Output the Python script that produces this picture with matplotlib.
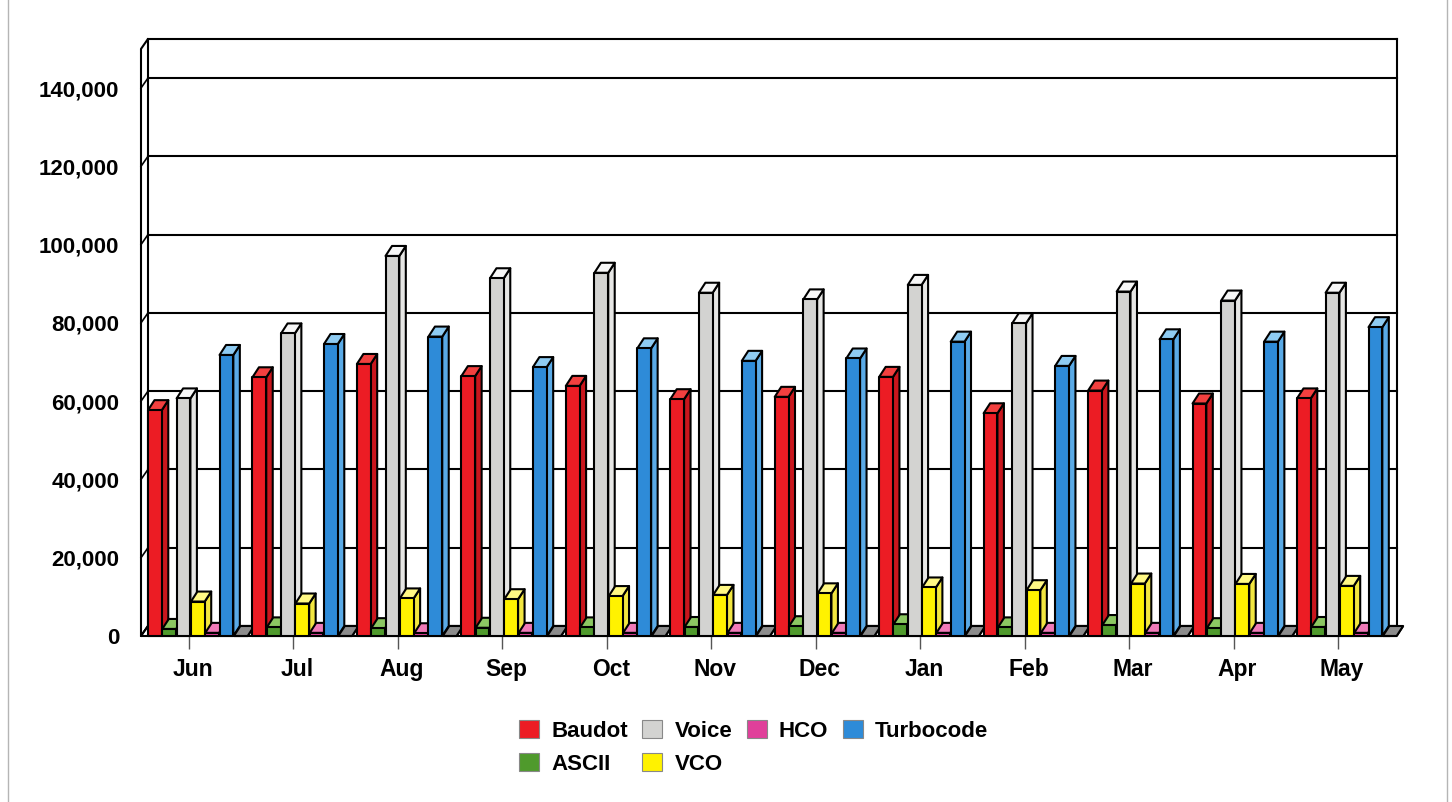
import matplotlib
matplotlib.use("Agg")
import matplotlib.pyplot as plt
import matplotlib.transforms as mtransforms
from matplotlib.patches import Polygon, Rectangle
from matplotlib.lines import Line2D

plt.rcParams['font.family'] = ['Liberation Sans', 'DejaVu Sans']
plt.rcParams['font.weight'] = 'bold'

# Monthly traffic counts
months = ["Jun", "Jul", "Aug", "Sep", "Oct", "Nov", "Dec", "Jan", "Feb", "Mar", "Apr", "May"]
baudot = [57700, 66100, 69500, 66400, 63900, 60500, 61100, 66200, 56900, 62700, 59400, 60700]
ascii_ = [1800, 2200, 2000, 2100, 2200, 2300, 2500, 3000, 2200, 2800, 2000, 2300]
voice = [60700, 77300, 97100, 91400, 92800, 87700, 86000, 89700, 79900, 88000, 85700, 87700]
vco = [8800, 8300, 9600, 9400, 10200, 10500, 10900, 12400, 11700, 13400, 13300, 12800]
hco = [800, 800, 700, 800, 800, 800, 800, 800, 800, 800, 800, 800]
turbocode = [71800, 74600, 76500, 68700, 73500, 70300, 70900, 75200, 69000, 75800, 75200, 78900]
other = [0, 0, 0, 0, 0, 0, 0, 0, 0, 0, 0, 0]

# name, values, front / side / top colours, shown in legend
series = [
    ("Baudot", baudot, "#ec1c24", "#c9161d", "#f2403f", True),
    ("ASCII", ascii_, "#4f9a2c", "#3f8a22", "#8cc862", True),
    ("Voice", voice, "#d3d3d1", "#e6e6e4", "#f7f7f7", True),
    ("VCO", vco, "#fff200", "#f2e640", "#fff884", True),
    ("HCO", hco, "#e0409a", "#c8307f", "#f07ab8", True),
    ("Turbocode", turbocode, "#2e8bd8", "#5aaae6", "#8ecbf2", True),
    ("Other", other, "#6e6e6e", "#5a5a5a", "#8c8c8c", False),
]

W, H = 1452, 802
fig = plt.figure(figsize=(W / 100, H / 100), dpi=100)
fig.patch.set_facecolor("white")

# front plane of the 3D box, in pixels
left_px, right_px, base_px, top_px = 141, 1390, 636, 48.9
ax = fig.add_axes([left_px / W, (H - base_px) / H,
                   (right_px - left_px) / W, (base_px - top_px) / H])
x0, x1 = -0.4595, 11.498
ymax = 150000
ax.set_xlim(x0, x1)
ax.set_ylim(0, ymax)
for s in ax.spines.values():
    s.set_visible(False)

px_x = (right_px - left_px) / (x1 - x0)
px_y = (base_px - top_px) / ymax
DX = 7 / px_x        # depth offset of walls
DY = 10 / px_y
BDX = 6.5 / px_x     # depth offset of bars
BDY = 10 / px_y
LW = 1.5

# back wall, left wall and floor
kw = dict(clip_on=False, joinstyle="round")
ax.add_patch(Polygon([(x0, 0), (x0 + DX, DY), (x0 + DX, ymax + DY), (x0, ymax)],
                     fc="white", ec="black", lw=LW, zorder=1, **kw))
ax.add_patch(Polygon([(x0, 0), (x1, 0), (x1 + DX, DY), (x0 + DX, DY)],
                     fc="white", ec="black", lw=LW, zorder=1, **kw))
for v in range(0, 140001, 20000):
    ax.plot([x0 + DX, x1 + DX], [v + DY, v + DY], color="black", lw=1.5, zorder=1.5, clip_on=False)
    ax.plot([x0, x0 + DX], [v, v + DY], color="black", lw=1.2, zorder=1.5, clip_on=False)
ax.plot([x0 + DX, x1 + DX], [ymax + DY, ymax + DY], color="black", lw=1.5, zorder=1.5, clip_on=False)
ax.plot([x1 + DX, x1 + DX], [DY, ymax + DY], color="black", lw=1.5, zorder=1.5, clip_on=False)


def draw_bar(x, h, w, front, side, top, z):
    ax.add_patch(Polygon([(x + w, 0), (x + w + BDX, BDY), (x + w + BDX, h + BDY), (x + w, h)],
                         fc=side, ec="black", lw=LW, zorder=z, **kw))
    ax.add_patch(Polygon([(x, h), (x + w, h), (x + w + BDX, h + BDY), (x + BDX, h + BDY)],
                         fc=top, ec="black", lw=LW, zorder=z, **kw))
    ax.add_patch(Rectangle((x, 0), w, h, fc=front, ec="black", lw=LW, zorder=z, **kw))


pitch = 0.137
bw = 0.132
z = 2
for i in range(len(months)):
    for k, (name, vals, front, side, top, _) in enumerate(series):
        draw_bar(i - 0.3925 + k * pitch, vals[i], bw, front, side, top, z)
        z += 0.01

# axes labels
ax.set_yticks(range(0, 140001, 20000))
ax.set_yticklabels([f"{v:,}" for v in range(0, 140001, 20000)])
ax.tick_params(axis="y", length=0, pad=15.5, labelsize=16)
ax.set_xticks(range(len(months)))
ax.set_xticklabels(months)
ax.tick_params(axis="x", length=9, width=1, color="#555555", pad=7, labelsize=16.5)
shift = mtransforms.ScaledTranslation(4 / 100, 0, fig.dpi_scale_trans)
for lbl in ax.get_xticklabels():
    lbl.set_transform(lbl.get_transform() + shift)

# legend
handles = [Rectangle((0, 0), 1, 1, fc=s[2], ec="#888888", lw=0.8) for s in series if s[5]]
labels = [s[0] for s in series if s[5]]
fig.legend(handles, labels, ncol=4, loc="upper left",
           bbox_to_anchor=(519 / W, (H - 720) / H), frameon=False,
           prop={"family": "Liberation Sans", "weight": "bold", "size": 16},
           handlelength=0.9, handleheight=0.9, handletextpad=0.55,
           columnspacing=0.65, labelspacing=0.5, borderpad=0, borderaxespad=0)

# outer frame
for xp in (8, 1447):
    fig.add_artist(Line2D([xp / W, xp / W], [0, 1], color="#b5b5b5", lw=1,
                          transform=fig.transFigure))

fig.savefig("out.png", dpi=100)
